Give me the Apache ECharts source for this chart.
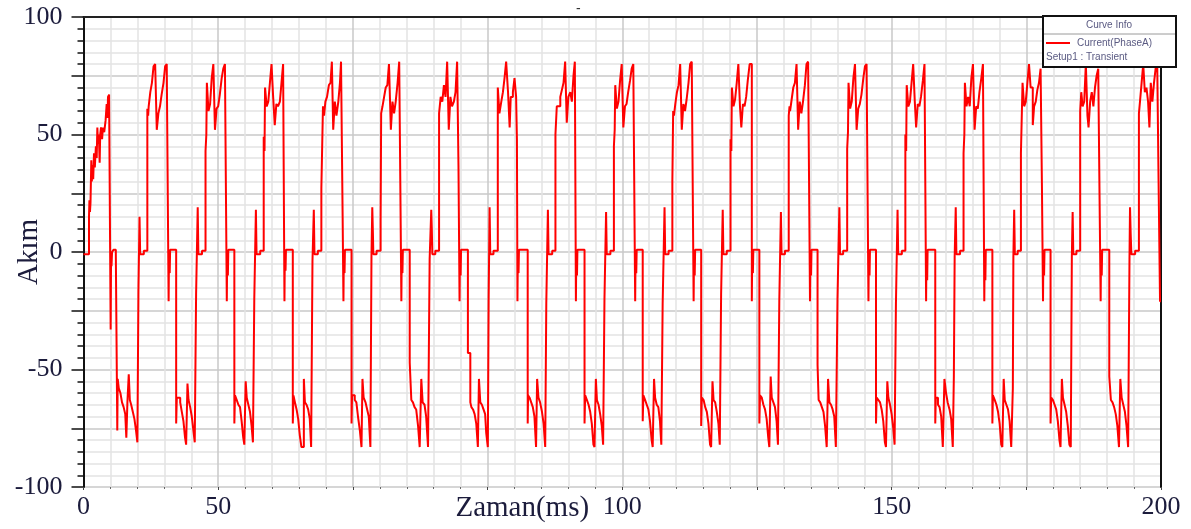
<!DOCTYPE html>
<html>
<head>
<meta charset="utf-8">
<script src="https://cdn.jsdelivr.net/npm/echarts@6/dist/echarts.min.js"></script>
<style>
html,body{margin:0;padding:0;background:#fff;}
#chart{width:1191px;height:529px;}
</style>
</head>
<body>
<div id="chart"></div>
<script>
// ---- data: [time (ms), current (A)], one array per electrical cycle ----
const cycle00 = [[0,-1],[1.02,15],[1.1,22],[1.2,17],[1.3,21],[1.45,39],[1.55,30],[1.65,37],[1.8,31],[1.95,42],[2.1,36],[2.3,45],[2.45,40],[2.57,53],[2.7,46],[2.85,50],[3.0,38],[3.1,50],[3.25,53],[3.45,48],[3.6,53],[3.85,51],[4.1,56],[4.3,63],[4.45,57],[4.55,66],[4.75,67],[5.04,-33],[5.12,-1],[5.2,-6],[5.3,0],[5.6,1],[6.0,-1],[6.27,-76],[6.35,-54],[6.55,-58],[6.85,-60],[7.15,-64],[7.45,-66],[7.75,-69],[7.95,-79],[8.15,-64],[8.4,-52],[8.6,-63],[8.85,-65],[9.15,-68],[9.45,-71],[9.75,-76],[10.0,-81],[10.2,-16]];
const cycle01 = [[10.4,15],[10.52,-1],[11.2,0.5],[11.85,61],[12.0,58],[12.1,62],[12.4,68],[12.7,72],[13.0,79],[13.3,80],[13.6,52],[13.9,59],[14.2,62],[14.5,67],[14.85,72],[15.15,79],[15.45,80],[15.8,-21],[15.87,-1],[16.0,-9],[16.08,1],[17.2,-73],[17.32,-62],[17.65,-62],[17.95,-64],[18.25,-68],[18.55,-72],[18.85,-79],[19.05,-82],[19.3,-56],[19.5,-63],[19.8,-66],[20.1,-70],[20.4,-76],[20.65,-81],[20.9,-18]];
const cycle02 = [[21.2,19],[21.32,-1],[22.0,0.5],[22.65,43],[22.8,50],[22.9,72],[23.2,60],[23.5,63],[23.8,74],[24.1,80],[24.4,52],[24.7,61],[25.0,62],[25.3,67],[25.65,74],[25.95,78],[26.25,80],[26.6,-21],[26.67,-1],[26.8,-10],[26.88,1],[28.0,-73],[28.12,-61],[28.45,-63],[28.75,-65],[29.05,-66],[29.35,-72],[29.65,-79],[29.85,-82],[30.1,-55],[30.3,-62],[30.6,-65],[30.9,-68],[31.2,-74],[31.45,-81],[31.7,-20]];
const cycle03 = [[32.0,18],[32.12,-1],[32.8,0.5],[33.45,49],[33.6,43],[33.7,70],[34.0,62],[34.3,64],[34.6,72],[34.9,80],[35.2,66],[35.5,54],[35.8,63],[36.1,62],[36.45,64],[36.75,72],[37.05,80],[37.3,-21],[37.37,-1],[37.5,-8],[37.58,1],[38.85,-73],[38.97,-61],[39.25,-64],[39.55,-67],[39.85,-71],[40.15,-78],[40.45,-83],[40.9,-54],[41.1,-64],[41.4,-65],[41.7,-67],[42.0,-71],[42.25,-83],[42.5,-4]];
const cycle04 = [[42.75,18],[42.87,-1],[43.5,0.5],[44.15,27],[44.45,62],[44.65,58],[44.9,64],[45.2,66],[45.55,71],[45.85,72],[46.1,81],[46.35,52],[46.65,64],[46.95,58],[47.3,64],[47.6,72],[47.8,81],[48.1,15],[48.25,-21],[48.32,-1],[48.45,-9],[48.53,1],[49.75,-73],[49.85,-61],[50.35,-63],[50.65,-64],[50.95,-70],[51.3,-76],[51.6,-83],[51.78,-54],[52.0,-62],[52.35,-64],[52.65,-67],[52.95,-70],[53.25,-83],[53.45,-2]];
const cycle05 = [[53.6,19],[53.72,8],[53.8,-1],[54.4,0.5],[55.15,13],[55.25,59],[55.5,62],[55.8,66],[56.1,70],[56.4,71],[56.7,80],[57.05,52],[57.35,64],[57.65,59],[57.95,64],[58.3,72],[58.6,81],[58.85,18],[59.0,-21],[59.07,-1],[59.2,-9],[59.28,1],[60.55,-47],[60.85,-63],[61.15,-64],[61.45,-66],[61.75,-67],[62.1,-74],[62.4,-83],[62.7,-54],[62.95,-64],[63.3,-65],[63.6,-70],[63.95,-83],[64.25,-3]];
const cycle06 = [[64.55,18],[64.65,10],[64.75,-1],[65.3,0.5],[66.0,59],[66.3,66],[66.6,64],[66.9,71],[67.2,66],[67.5,81],[67.8,52],[68.1,66],[68.4,62],[68.75,64],[69.05,68],[69.35,81],[69.6,37],[69.8,-21],[69.87,-1],[70.0,-10],[70.08,1],[71.35,-43],[71.8,-64],[72.0,-66],[72.3,-67],[72.6,-69],[72.9,-73],[73.2,-83],[73.4,-54],[73.65,-64],[73.95,-65],[74.25,-67],[74.55,-69],[74.75,-77],[75.05,-83],[75.2,-21]];
const cycle07 = [[75.38,19],[75.5,-1],[76.1,0.5],[76.9,70],[77.2,59],[77.55,64],[77.85,68],[78.15,74],[78.45,81],[78.8,68],[79.1,53],[79.3,66],[79.7,68],[80.0,74],[80.3,66],[80.45,48],[80.55,-21],[80.62,-1],[80.75,-9],[80.83,1],[82.45,-73],[82.52,-61],[82.8,-62],[83.1,-64],[83.4,-66],[83.7,-70],[84.0,-83],[84.2,-54],[84.45,-62],[84.75,-64],[85.1,-68],[85.4,-73],[85.7,-83],[85.9,-22]];
const cycle08 = [[86.2,18],[86.32,-1],[87.0,0.5],[87.6,50],[87.85,62],[88.2,62],[88.5,66],[88.8,69],[89.1,72],[89.4,81],[89.7,55],[90.0,66],[90.35,68],[90.65,64],[90.95,75],[91.2,81],[91.4,-21],[91.47,-1],[91.6,-10],[91.68,1],[93.0,-73],[93.12,-61],[93.45,-63],[93.75,-65],[94.05,-68],[94.35,-73],[94.65,-82],[94.85,-83],[95.1,-54],[95.3,-63],[95.6,-65],[95.9,-69],[96.2,-74],[96.45,-82],[96.7,-20]];
const cycle09 = [[97.0,17],[97.12,-1],[97.8,0.5],[98.45,45],[98.6,52],[98.7,71],[99.0,61],[99.3,64],[99.6,73],[99.9,80],[100.2,53],[100.5,62],[100.8,63],[101.1,68],[101.45,73],[101.75,78],[102.05,80],[102.4,-21],[102.47,-1],[102.6,-9],[102.68,1],[103.8,-72],[103.92,-61],[104.25,-63],[104.55,-65],[104.85,-67],[105.15,-72],[105.45,-80],[105.65,-83],[105.9,-54],[106.1,-62],[106.4,-65],[106.7,-66],[107.0,-72],[107.25,-82],[107.5,-22]];
const cycle10 = [[107.85,19],[107.97,-1],[108.6,0.5],[109.3,30],[109.45,60],[109.6,58],[109.85,63],[110.15,68],[110.45,71],[110.75,80],[111.05,52],[111.35,63],[111.65,60],[111.95,65],[112.3,72],[112.6,80],[112.9,81],[113.25,-21],[113.32,-1],[113.45,-10],[113.53,1],[114.65,-74],[114.77,-62],[115.1,-63],[115.4,-66],[115.7,-68],[116.0,-73],[116.3,-82],[116.5,-83],[116.75,-55],[116.95,-63],[117.25,-64],[117.55,-68],[117.85,-73],[118.1,-82],[118.35,-18]];
const cycle11 = [[118.65,18],[118.77,-1],[119.4,0.5],[120.1,48],[120.25,43],[120.35,70],[120.65,62],[120.95,65],[121.25,72],[121.55,80],[121.85,62],[122.1,53],[122.4,63],[122.7,62],[123.0,66],[123.3,73],[123.65,80],[124.05,-21],[124.12,-1],[124.25,-9],[124.33,1],[125.45,-73],[125.57,-61],[125.9,-62],[126.2,-65],[126.5,-67],[126.8,-71],[127.1,-79],[127.3,-83],[127.55,-53],[127.75,-62],[128.05,-64],[128.35,-66],[128.65,-72],[128.9,-82],[129.15,-21]];
const cycle12 = [[129.45,17],[129.57,-1],[130.2,0.5],[130.9,58],[131.05,62],[131.15,60],[131.45,65],[131.75,70],[132.05,72],[132.35,80],[132.65,52],[132.95,64],[133.25,59],[133.55,64],[133.9,71],[134.2,80],[134.5,81],[134.85,-21],[134.92,-1],[135.05,-10],[135.13,1],[136.25,-48],[136.45,-63],[136.75,-64],[137.05,-66],[137.35,-68],[137.65,-74],[137.95,-83],[138.2,-54],[138.45,-64],[138.75,-65],[139.05,-67],[139.35,-70],[139.65,-83],[139.95,-20]];
const cycle13 = [[140.3,19],[140.42,-1],[141.0,0.5],[141.75,44],[141.9,51],[142.0,72],[142.3,61],[142.6,64],[142.9,74],[143.2,80],[143.5,52],[143.8,61],[144.1,63],[144.4,67],[144.75,74],[145.05,79],[145.35,80],[145.7,-21],[145.77,-1],[145.9,-10],[145.98,1],[147.1,-73],[147.22,-62],[147.55,-63],[147.85,-64],[148.15,-67],[148.45,-72],[148.75,-81],[148.95,-83],[149.2,-55],[149.4,-62],[149.7,-65],[150.0,-69],[150.3,-75],[150.55,-82],[150.8,-22]];
const cycle14 = [[151.1,18],[151.22,-1],[151.9,0.5],[152.55,50],[152.7,43],[152.8,71],[153.1,62],[153.4,64],[153.7,72],[154.0,80],[154.3,64],[154.55,53],[154.85,63],[155.15,62],[155.45,66],[155.8,73],[156.1,80],[156.4,-21],[156.47,-1],[156.6,-12],[156.68,1],[158.1,-73],[158.2,-62],[158.6,-65],[158.9,-66],[159.2,-70],[159.5,-83],[159.8,-54],[160.1,-60],[160.4,-64],[160.75,-67],[161.05,-71],[161.35,-83],[161.55,-53],[161.7,-2]];
const cycle15 = [[161.9,19],[162.02,-1],[162.7,0.5],[163.35,42],[163.5,50],[163.6,72],[163.9,62],[164.2,66],[164.5,62],[164.8,74],[165.1,80],[165.4,52],[165.7,62],[166.0,61],[166.3,68],[166.65,74],[166.95,80],[167.2,-21],[167.27,-1],[167.4,-12],[167.48,1],[168.7,-73],[168.8,-61],[169.15,-63],[169.45,-65],[169.75,-68],[170.05,-73],[170.35,-82],[170.55,-83],[170.8,-54],[171.0,-63],[171.3,-65],[171.6,-67],[171.9,-72],[172.2,-83],[172.5,-58],[172.6,-2]];
const cycle16 = [[172.75,18],[172.87,-1],[173.4,0.5],[174.0,42],[174.3,72],[174.6,62],[174.9,64],[175.2,72],[175.5,80],[175.8,70],[176.2,54],[176.45,62],[176.75,64],[177.05,69],[177.35,72],[177.65,78],[177.9,28],[178.1,-21],[178.17,-1],[178.3,-10],[178.38,1],[179.5,-73],[179.62,-62],[179.95,-63],[180.25,-65],[180.55,-67],[180.85,-72],[181.15,-80],[181.35,-83],[181.6,-54],[181.8,-62],[182.1,-65],[182.4,-68],[182.7,-74],[183.0,-82],[183.25,-83],[183.45,-2]];
const cycle17 = [[183.6,17],[183.72,-1],[184.3,0.5],[185.0,60],[185.2,68],[185.45,62],[185.75,64],[186.05,80],[186.35,58],[186.55,53],[186.85,64],[187.15,68],[187.45,62],[187.75,70],[188.05,75],[188.35,78],[188.6,22],[188.8,-21],[188.87,-1],[189.0,-10],[189.08,1],[190.4,-53],[190.7,-63],[191.0,-64],[191.3,-66],[191.6,-69],[191.9,-74],[192.2,-83],[192.45,-54],[192.7,-62],[193.0,-65],[193.3,-68],[193.6,-74],[193.9,-83],[194.15,-3]];
const cycle18 = [[194.25,19],[194.37,8],[194.5,-1],[195.2,0.5],[195.9,59],[196.1,64],[196.4,72],[196.7,80],[197.0,68],[197.3,70],[197.6,64],[197.85,53],[198.1,72],[198.4,64],[198.7,72],[199.0,78],[199.3,80],[199.55,30],[199.82,-21],[200,-21]];

// ---- axis tick labels ----
const xLabelValues = [0, 25, 100, 150, 200];
const xLabelTexts  = ['0', '50', '100', '150', '200'];
const yLabelValues = [100, 50, 0, -50, -100];

const seriesName = 'Current(PhaseA)';
const setupText = 'Setup1 : Transient';
const legendTitle = 'Curve Info';
const xName = 'Zaman(ms)';
const yName = 'Akım';

const currentData = [].concat(cycle00, cycle01, cycle02, cycle03, cycle04, cycle05, cycle06,
  cycle07, cycle08, cycle09, cycle10, cycle11, cycle12, cycle13, cycle14, cycle15, cycle16, cycle17, cycle18);

const labelColor = '#1c1c3c';
const serif = '"Liberation Serif", "DejaVu Serif", serif';
const majorGrid = {show: true, lineStyle: {color: '#c8c8c8', width: 1.5}};
const minorGrid = {show: true, lineStyle: {color: '#e4e4e4', width: 1.5}};

const chart = echarts.init(document.getElementById('chart'), null, {renderer: 'canvas'});
chart.setOption({
  animation: false,
  backgroundColor: '#ffffff',
  title: {text: '-', left: 571, top: -3, textStyle: {fontSize: 14, fontWeight: 'normal', color: '#333'}},
  grid: {left: 83.5, right: 30, top: 17, bottom: 42, containLabel: false, outerBoundsMode: 'none'},
  legend: {
    data: [seriesName], left: 1046, top: 38, itemWidth: 24, itemHeight: 2, icon: 'rect',
    itemGap: 4, padding: 0, z: 20,
    textStyle: {fontSize: 10, color: '#5a5a82', fontFamily: '"Liberation Sans", Arial, sans-serif', padding: [0, 0, 0, 2]}
  },
  xAxis: [{
    type: 'value', min: 0, max: 200, interval: 25, position: 'bottom',
    name: xName, nameLocation: 'middle', nameGap: 7, nameMoveOverlap: false,
    nameTextStyle: {fontSize: 29, fontFamily: serif, color: labelColor, padding: [0, 200, 0, 0], verticalAlign: 'top'},
    axisLine: {show: false, onZero: false},
    axisTick: {show: true, length: 3, lineStyle: {color: '#444'}},
    minorTick: {show: true, splitNumber: 5, length: 2, lineStyle: {color: '#666'}},
    splitLine: majorGrid,
    minorSplitLine: minorGrid,
    axisLabel: {
      margin: 7, fontSize: 26, fontFamily: serif, color: labelColor, showMinLabel: true, showMaxLabel: true,
      formatter: function (v) { const i = xLabelValues.indexOf(v); return i >= 0 ? xLabelTexts[i] : ''; }
    }
  }, {
    type: 'value', min: 0, max: 200, position: 'top',
    axisLine: {show: true, onZero: false, lineStyle: {color: '#222', width: 2}},
    axisTick: {show: false}, axisLabel: {show: false}, splitLine: {show: false}
  }],
  yAxis: [{
    type: 'value', min: -100, max: 100, interval: 25, position: 'left',
    name: yName, nameLocation: 'middle', nameGap: 40, nameRotate: 90, nameMoveOverlap: false,
    nameTextStyle: {fontSize: 29, fontFamily: serif, color: labelColor},
    axisLine: {show: true, onZero: false, lineStyle: {color: '#111', width: 2}},
    axisTick: {show: true, length: 12, lineStyle: {color: '#111', width: 1.5}},
    minorTick: {show: true, splitNumber: 5, length: 6, lineStyle: {color: '#111', width: 1.5}},
    splitLine: majorGrid,
    minorSplitLine: minorGrid,
    axisLabel: {
      margin: 21, fontSize: 26, fontFamily: serif, color: labelColor, showMinLabel: true, showMaxLabel: true,
      formatter: function (v) { return yLabelValues.indexOf(v) >= 0 ? String(v) : ''; }
    }
  }, {
    type: 'value', min: -100, max: 100, position: 'right',
    axisLine: {show: true, onZero: false, lineStyle: {color: '#111', width: 2}},
    axisTick: {show: false}, axisLabel: {show: false}, splitLine: {show: false}
  }],
  series: [{
    name: seriesName, type: 'line', step: 'end', data: currentData,
    showSymbol: false, symbol: 'none', clip: true,
    lineStyle: {color: '#ff0000', width: 2}, itemStyle: {color: '#ff0000'}, z: 3
  }],
  graphic: [
    {type: 'rect', z: 15, shape: {x: 1043, y: 16, width: 133, height: 51},
     style: {fill: '#ffffff', stroke: '#111', lineWidth: 2}},
    {type: 'line', z: 16, shape: {x1: 1044, y1: 34, x2: 1175, y2: 34}, style: {stroke: '#9a9a9a', lineWidth: 1}},
    {type: 'text', z: 16, x: 1109, y: 25,
     style: {text: legendTitle, fontSize: 10, fill: '#5a5a82', align: 'center', verticalAlign: 'middle', fontFamily: '"Liberation Sans", Arial, sans-serif'}},
    {type: 'text', z: 16, x: 1046, y: 57,
     style: {text: setupText, fontSize: 10, fill: '#5a5a82', align: 'left', verticalAlign: 'middle', fontFamily: '"Liberation Sans", Arial, sans-serif'}}
  ]
});
</script>
</body>
</html>
